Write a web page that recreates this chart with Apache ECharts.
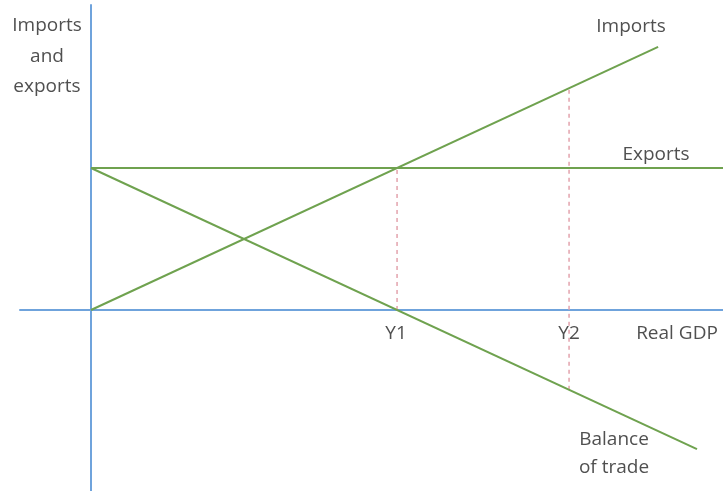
<!DOCTYPE html>
<html>
<head>
<meta charset="utf-8">
<script src="https://cdn.jsdelivr.net/npm/echarts@6/dist/echarts.min.js"></script>
<style>
  html, body { margin: 0; padding: 0; background: #fff; }
  #chart { width: 723px; height: 491px; }
</style>
</head>
<body>
<div id="chart"></div>
<script>
// real GDP units: Y1 = 10, exports level = 10
const exportsLevel = 10;
const importsX = [0, 18.53];
const importsValues = [0, 18.53];
const balanceX = [0, 19.8];
const balanceValues = [10, -9.8];
const exportsX = [0, 20.65];
const incomeLevels = [10, 15.62];    // Y1, Y2
const incomeLabels = ["Y1", "Y2"];

const green = "#6fa24f";
const textColor = "#505050";
const font = "'Open Sans', 'Liberation Sans', sans-serif";

function line(xs, ys) {
  return xs.map((x, i) => [x, ys[i]]);
}

let chart = echarts.init(document.getElementById("chart"));

// dotted guides from the balance line / axis up to the imports line
let guides = incomeLevels.map(y => ({
  type: "line",
  data: [[y, Math.min(0, exportsLevel - y)], [y, y]],
  symbol: "none",
  silent: true,
  lineStyle: { color: "#e3a3ad", width: 1.5, type: [4, 4] },
  z: 1
}));

// text labels drawn on top of the chart
let labels = [
  { t: "Imports", x: 47, y: 26 },
  { t: "and", x: 47, y: 57 },
  { t: "exports", x: 47, y: 87 },
  { t: "Imports", x: 631, y: 27 },
  { t: "Exports", x: 656, y: 155 },
  { t: incomeLabels[0], x: 396, y: 334 },
  { t: incomeLabels[1], x: 569, y: 334 },
  { t: "Real GDP", x: 677, y: 334 },
  { t: "Balance", x: 614, y: 440 },
  { t: "of trade", x: 614, y: 468 }
];

chart.setOption({
  animation: false,
  grid: { left: 20, right: 0, top: 5, bottom: 0 },
  xAxis: {
    type: "value",
    min: -2.32,
    max: 20.65,
    splitLine: { show: false },
    axisTick: { show: false },
    axisLabel: { show: false },
    axisLine: { show: true, onZero: true, lineStyle: { color: "#6fa3dc", width: 2 } }
  },
  yAxis: {
    type: "value",
    min: -12.75,
    max: 21.48,
    splitLine: { show: false },
    axisTick: { show: false },
    axisLabel: { show: false },
    axisLine: { show: true, onZero: true, lineStyle: { color: "#6fa3dc", width: 2 } }
  },
  series: guides.concat([
    {
      name: "Imports",
      type: "line",
      data: line(importsX, importsValues),
      symbol: "none",
      lineStyle: { color: green, width: 2 },
      z: 3
    },
    {
      name: "Exports",
      type: "line",
      data: line(exportsX, [exportsLevel, exportsLevel]),
      symbol: "none",
      lineStyle: { color: green, width: 2 },
      z: 3
    },
    {
      name: "Balance of trade",
      type: "line",
      data: line(balanceX, balanceValues),
      symbol: "none",
      lineStyle: { color: green, width: 2 },
      z: 3
    }
  ]),
  graphic: labels.map(d => ({
    type: "text",
    x: d.x,
    y: d.y,
    style: {
      text: d.t,
      fill: textColor,
      font: "19px " + font,
      align: "center",
      verticalAlign: "middle"
    },
    z: 10
  }))
});
</script>
</body>
</html>
